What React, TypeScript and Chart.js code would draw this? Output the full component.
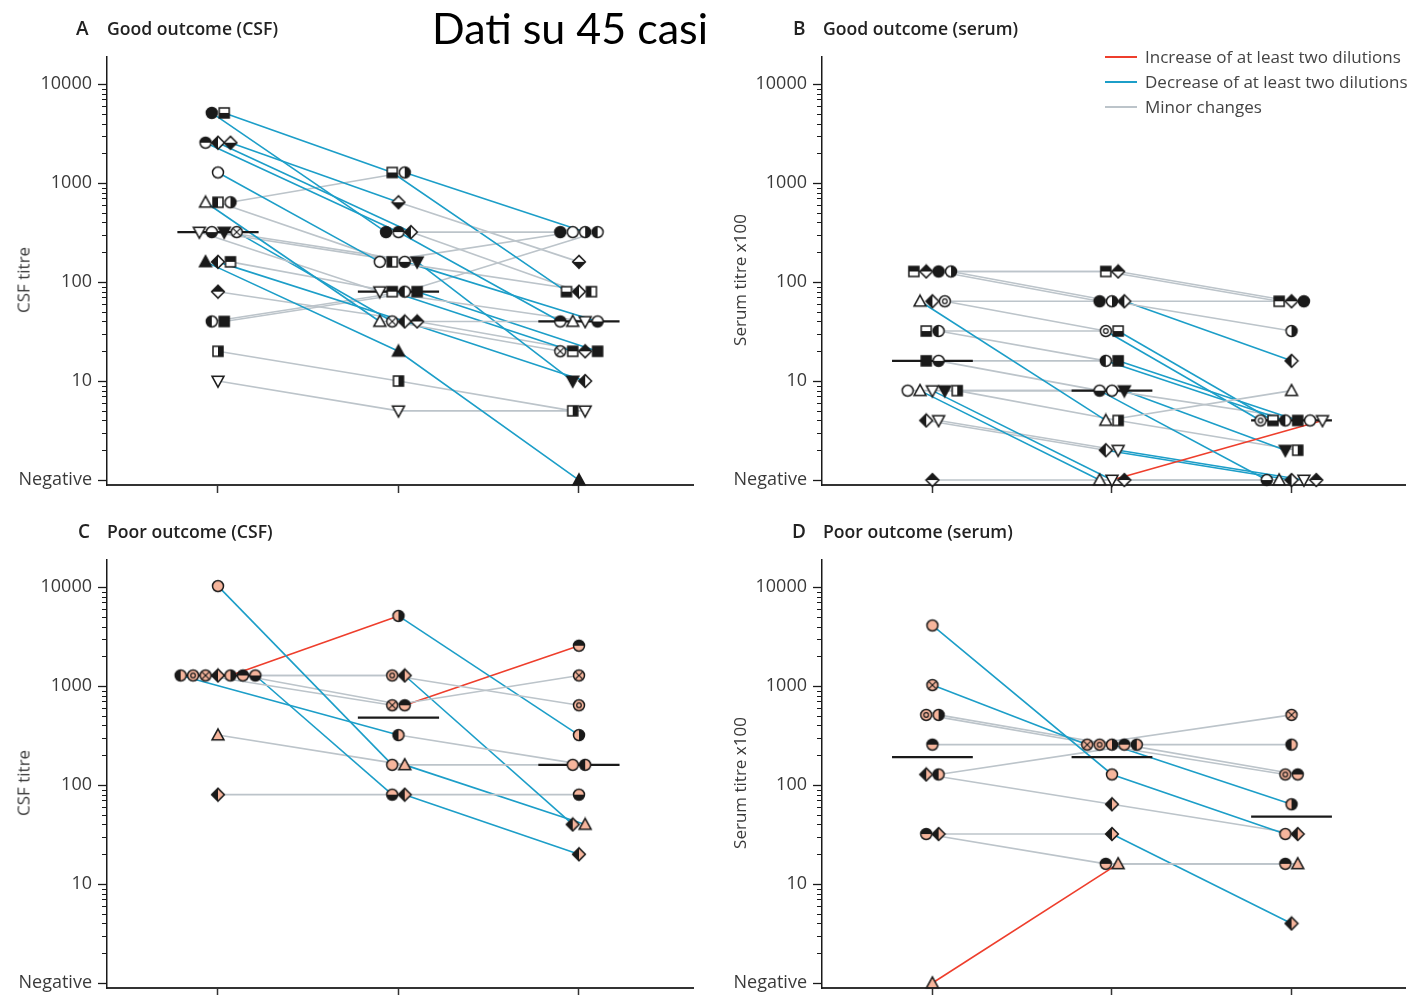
import React, { useEffect, useRef } from 'react';
import { Chart, registerables } from 'chart.js';

Chart.register(...registerables);

// ---------- data ----------
const NEG = 1; // "Negative" plotted at the bottom tick
const TIMEPOINTS = [0, 1, 2];
const Y_TICKS = [1, 10, 100, 1000, 10000];

// A: good outcome, CSF titre (t0, t1, t2)
const goodCsfTitres = [
  [5120, 320, 320],
  [5120, 1280, 80],
  [2560, 320, 40],
  [2560, 320, 80],
  [2560, 640, 160],
  [1280, 160, 320],
  [640, 40, 40],
  [640, 160, 80],
  [640, 1280, 320],
  [320, 80, 40],
  [320, 160, 40],
  [320, 160, 10],
  [320, 40, 20],
  [160, 20, NEG],
  [160, 40, 10],
  [160, 80, 20],
  [80, 40, 20],
  [40, 80, 320],
  [40, 80, 20],
  [20, 10, 5],
  [10, 5, 5],
];
const goodCsfSymbols = [
  'circle-filled', 'square-bottom', 'circle-top', 'diamond-left', 'diamond-bottom',
  'circle-open', 'tri-open', 'square-left', 'circle-right', 'triDown-open',
  'circle-bottom', 'triDown-filled', 'circle-cross', 'tri-filled', 'diamond-left',
  'square-top', 'diamond-top', 'circle-left', 'square-filled', 'square-right', 'triDown-open',
];

// B: good outcome, serum titre x100
const goodSerumTitres = [
  [128, 128, 64],
  [128, 128, 64],
  [128, 64, 64],
  [128, 64, 32],
  [64, 4, 8],
  [64, 64, 16],
  [64, 32, 4],
  [32, 32, 4],
  [32, 16, 4],
  [16, 16, 4],
  [16, 8, NEG],
  [8, 8, 4],
  [8, NEG, NEG],
  [8, NEG, 4],
  [8, 8, 2],
  [8, 4, 2],
  [4, 2, NEG],
  [4, 2, NEG],
  [NEG, NEG, NEG],
];
const goodSerumSymbols = [
  'square-top', 'diamond-top', 'circle-filled', 'circle-right', 'tri-open',
  'diamond-left', 'circle-dot', 'square-bottom', 'circle-left', 'square-filled',
  'circle-bottom', 'circle-open', 'tri-open', 'triDown-open', 'triDown-filled',
  'square-right', 'diamond-left', 'triDown-open', 'diamond-top',
];

// C: poor outcome, CSF titre
const poorCsfTitres = [
  [10240, 160, 160],
  [1280, 320, 160],
  [1280, 1280, 640],
  [1280, 640, 1280],
  [1280, 1280, 40],
  [1280, 5120, 320],
  [1280, 640, 2560],
  [1280, 80, 80],
  [320, 160, 40],
  [80, 80, 20],
];
const poorCsfSymbols = [
  'circle-open', 'circle-left', 'circle-dot', 'circle-cross', 'diamond-left',
  'circle-right', 'circle-top', 'circle-bottom', 'tri-open', 'diamond-left',
];

// D: poor outcome, serum titre x100
const poorSerumTitres = [
  [4096, 128, 32],
  [1024, 256, 512],
  [512, 256, 128],
  [512, 256, 64],
  [256, 256, 128],
  [128, 64, 32],
  [128, 256, 256],
  [32, 16, 16],
  [32, 32, 4],
  [NEG, 16, 16],
];
const poorSerumSymbols = [
  'circle-open', 'circle-cross', 'circle-dot', 'circle-right', 'circle-top',
  'diamond-left', 'circle-left', 'circle-top', 'diamond-left', 'tri-open',
];

// ---------- styles ----------
const RED = '#ee3e2c';
const BLUE = '#1c9ec8';
const GREY = '#bcc4ca';
const INK = '#1a1a1a';
const SALMON = '#f6b59c';
const JITTER = 0.069;
const MEDIAN_HALF = 0.225;
const FONT = "'Open Sans', 'Noto Sans', sans-serif";

function segColor(ctx: any) {
  const lv = (v: number) => Math.log2(v <= NEG ? 0.5 : v);
  const d = lv(ctx.p1.parsed.y) - lv(ctx.p0.parsed.y);
  if (d >= 2) return RED;
  if (d <= -2) return BLUE;
  return GREY;
}

function median(vals: number[]) {
  const s = [...vals].sort((a, b) => a - b);
  const m = Math.floor(s.length / 2);
  return s.length % 2 ? s[m] : (s[m - 1] + s[m]) / 2;
}

function makeMarker(code: string, bg: string) {
  const [shape, fill] = code.split('-');
  const S = 16;
  const c = document.createElement('canvas');
  c.width = S;
  c.height = S;
  const ctx = c.getContext('2d')!;
  const cx = S / 2, cy = S / 2;
  const p = new Path2D();
  if (shape === 'circle') p.arc(cx, cy, 5.5, 0, Math.PI * 2);
  else if (shape === 'square') p.rect(cx - 5, cy - 5, 10, 10);
  else if (shape === 'diamond') {
    p.moveTo(cx, cy - 6.4); p.lineTo(cx + 6.4, cy); p.lineTo(cx, cy + 6.4); p.lineTo(cx - 6.4, cy); p.closePath();
  } else if (shape === 'tri') {
    p.moveTo(cx, cy - 6.2); p.lineTo(cx + 6, cy + 4.8); p.lineTo(cx - 6, cy + 4.8); p.closePath();
  } else {
    p.moveTo(cx, cy + 6.2); p.lineTo(cx + 6, cy - 4.8); p.lineTo(cx - 6, cy - 4.8); p.closePath();
  }
  ctx.fillStyle = fill === 'filled' ? INK : bg;
  ctx.fill(p);
  ctx.save();
  ctx.clip(p);
  ctx.fillStyle = INK;
  if (fill === 'left') ctx.fillRect(0, 0, cx, S);
  if (fill === 'right') ctx.fillRect(cx, 0, S, S);
  if (fill === 'top') ctx.fillRect(0, 0, S, cy);
  if (fill === 'bottom') ctx.fillRect(0, cy, S, S);
  ctx.restore();
  ctx.strokeStyle = INK;
  ctx.lineWidth = 1.2;
  if (fill === 'cross') {
    const r = 3.7;
    ctx.beginPath();
    ctx.moveTo(cx - r, cy - r); ctx.lineTo(cx + r, cy + r);
    ctx.moveTo(cx + r, cy - r); ctx.lineTo(cx - r, cy + r);
    ctx.stroke();
  }
  if (fill === 'dot') {
    ctx.beginPath();
    ctx.arc(cx, cy, 2.3, 0, Math.PI * 2);
    ctx.stroke();
  }
  ctx.lineWidth = 1.5;
  ctx.stroke(p);
  return c;
}

function buildDatasets(titres: number[][], symbols: string[], bg: string) {
  const xs = titres.map(() => [0, 0, 0]);
  TIMEPOINTS.forEach((t, ti) => {
    const groups = new Map<number, number[]>();
    titres.forEach((row, pi) => {
      if (!groups.has(row[ti])) groups.set(row[ti], []);
      groups.get(row[ti])!.push(pi);
    });
    groups.forEach((list) =>
      list.forEach((pi, k) => {
        xs[pi][ti] = t + (k - (list.length - 1) / 2) * JITTER;
      })
    );
  });
  const ds: any[] = [];
  titres.forEach((row, pi) => {
    const data = row.map((v, ti) => ({ x: xs[pi][ti], y: v }));
    ds.push({
      data, order: 3, borderWidth: 1.6, borderColor: GREY, pointRadius: 0,
      segment: { borderColor: segColor }, tension: 0, clip: false,
    });
    ds.push({
      data, order: 0, showLine: false, pointRadius: 6, pointHoverRadius: 6,
      pointStyle: makeMarker(symbols[pi], bg), clip: false,
    });
  });
  TIMEPOINTS.forEach((t, ti) => {
    const med = median(titres.map((r) => r[ti]));
    ds.push({
      data: [{ x: t - MEDIAN_HALF, y: med }, { x: t + MEDIAN_HALF, y: med }],
      order: 1, borderColor: INK, borderWidth: 2.2, pointRadius: 0, clip: false,
    });
  });
  return ds;
}

const minorTicks = {
  id: 'minorTicks',
  afterDraw(chart: any) {
    const s = chart.scales.y;
    const ctx = chart.ctx;
    ctx.save();
    ctx.strokeStyle = INK;
    ctx.lineWidth = 1;
    for (let k = 0; k <= 4; k++) {
      for (let n = 2; n <= 9; n++) {
        const v = n * Math.pow(10, k);
        if (v > s.max) continue;
        const y = Math.round(s.getPixelForValue(v)) + 0.5;
        ctx.beginPath();
        ctx.moveTo(s.right - 5, y);
        ctx.lineTo(s.right, y);
        ctx.stroke();
      }
    }
    ctx.restore();
  },
};

function Panel(props: { left: number; top: number; width: number; height: number; padRight: number; titres: number[][]; symbols: string[]; bg: string }) {
  const ref = useRef<HTMLCanvasElement>(null);
  useEffect(() => {
    const chart = new Chart(ref.current!, {
      type: 'line',
      data: { datasets: buildDatasets(props.titres, props.symbols, props.bg) },
      options: {
        responsive: false,
        animation: false,
        events: [],
        layout: { padding: { left: 0, top: 15, right: props.padRight, bottom: 0 } },
        plugins: { legend: { display: false }, tooltip: { enabled: false } },
        scales: {
          x: {
            type: 'linear',
            min: -0.615,
            max: 2.632,
            afterBuildTicks: (s: any) => { s.ticks = TIMEPOINTS.map((v) => ({ value: v })); },
            afterFit: (s: any) => { s.height = 20; },
            ticks: { display: false },
            grid: { drawOnChartArea: false, drawTicks: true, tickLength: 8, tickColor: '#333', tickWidth: 1.5 },
            border: { color: '#333', width: 2 },
          },
          y: {
            type: 'logarithmic',
            min: 0.891,
            max: 18880,
            afterBuildTicks: (s: any) => { s.ticks = Y_TICKS.map((v) => ({ value: v })); },
            afterFit: (s: any) => { s.width = 107; },
            ticks: {
              autoSkip: false,
              padding: 6,
              color: '#3a3a3a',
              font: { family: FONT, size: 18 },
              callback: (v: any) => (v === NEG ? 'Negative' : String(v)),
            },
            grid: { drawOnChartArea: false, drawTicks: true, tickLength: 9, tickColor: INK, tickWidth: 1.3 },
            border: { color: INK, width: 1.5 },
          },
        },
      } as any,
      plugins: [minorTicks],
    });
    return () => chart.destroy();
  }, []);
  return (
    <canvas
      ref={ref}
      width={props.width}
      height={props.height}
      style={{ position: 'absolute', left: props.left, top: props.top, width: props.width, height: props.height }}
    />
  );
}

function Txt(props: { x: number; y: number; size?: number; weight?: number; color?: string; family?: string; children: React.ReactNode }) {
  return (
    <div
      style={{
        position: 'absolute', left: props.x, top: props.y, fontSize: props.size ?? 17,
        fontWeight: props.weight ?? 400, color: props.color ?? '#222', fontFamily: props.family ?? FONT,
        whiteSpace: 'nowrap', lineHeight: 1.2,
      }}
    >
      {props.children}
    </div>
  );
}

function VTxt(props: { cx: number; cy: number; children: React.ReactNode }) {
  return (
    <div
      style={{
        position: 'absolute', left: props.cx, top: props.cy, fontSize: 17, color: '#3a3a3a',
        fontFamily: FONT, whiteSpace: 'nowrap', lineHeight: 1,
        transform: 'translate(-50%, -50%) rotate(-90deg)',
      }}
    >
      {props.children}
    </div>
  );
}

function LegendRow(props: { y: number; color: string; label: string }) {
  return (
    <>
      <div style={{ position: 'absolute', left: 1105, top: props.y - 1, width: 32, height: 2, background: props.color }} />
      <Txt x={1145} y={props.y - 10} color="#444">{props.label}</Txt>
    </>
  );
}

export default function App() {
  return (
    <div style={{ position: 'absolute', left: 0, top: 0, width: 1412, height: 995, overflow: 'hidden', background: '#fff' }}>
      <Panel left={0} top={40} width={700} height={465} padRight={7} titres={goodCsfTitres} symbols={goodCsfSymbols} bg="#ffffff" />
      <Panel left={715} top={40} width={697} height={465} padRight={2} titres={goodSerumTitres} symbols={goodSerumSymbols} bg="#ffffff" />
      <Panel left={0} top={543} width={700} height={465} padRight={7} titres={poorCsfTitres} symbols={poorCsfSymbols} bg={SALMON} />
      <Panel left={715} top={543} width={697} height={465} padRight={2} titres={poorSerumTitres} symbols={poorSerumSymbols} bg={SALMON} />

      <Txt x={432} y={2} size={43} family="Lato, 'Open Sans', sans-serif" color="#000">Dati su 45 casi</Txt>

      <Txt x={76} y={17} size={19} weight={600}>A</Txt>
      <Txt x={107} y={18} size={17.6} weight={600}>Good outcome (CSF)</Txt>
      <Txt x={793} y={17} size={19} weight={600}>B</Txt>
      <Txt x={823} y={18} size={17.6} weight={600}>Good outcome (serum)</Txt>
      <Txt x={78} y={520} size={19} weight={600}>C</Txt>
      <Txt x={107} y={521} size={17.6} weight={600}>Poor outcome (CSF)</Txt>
      <Txt x={792} y={520} size={19} weight={600}>D</Txt>
      <Txt x={823} y={521} size={17.6} weight={600}>Poor outcome (serum)</Txt>

      <VTxt cx={23} cy={280}>CSF titre</VTxt>
      <VTxt cx={739} cy={280}>Serum titre x100</VTxt>
      <VTxt cx={23} cy={783}>CSF titre</VTxt>
      <VTxt cx={739} cy={783}>Serum titre x100</VTxt>

      <LegendRow y={57} color={RED} label="Increase of at least two dilutions" />
      <LegendRow y={82} color={BLUE} label="Decrease of at least two dilutions" />
      <LegendRow y={107} color={GREY} label="Minor changes" />
    </div>
  );
}
